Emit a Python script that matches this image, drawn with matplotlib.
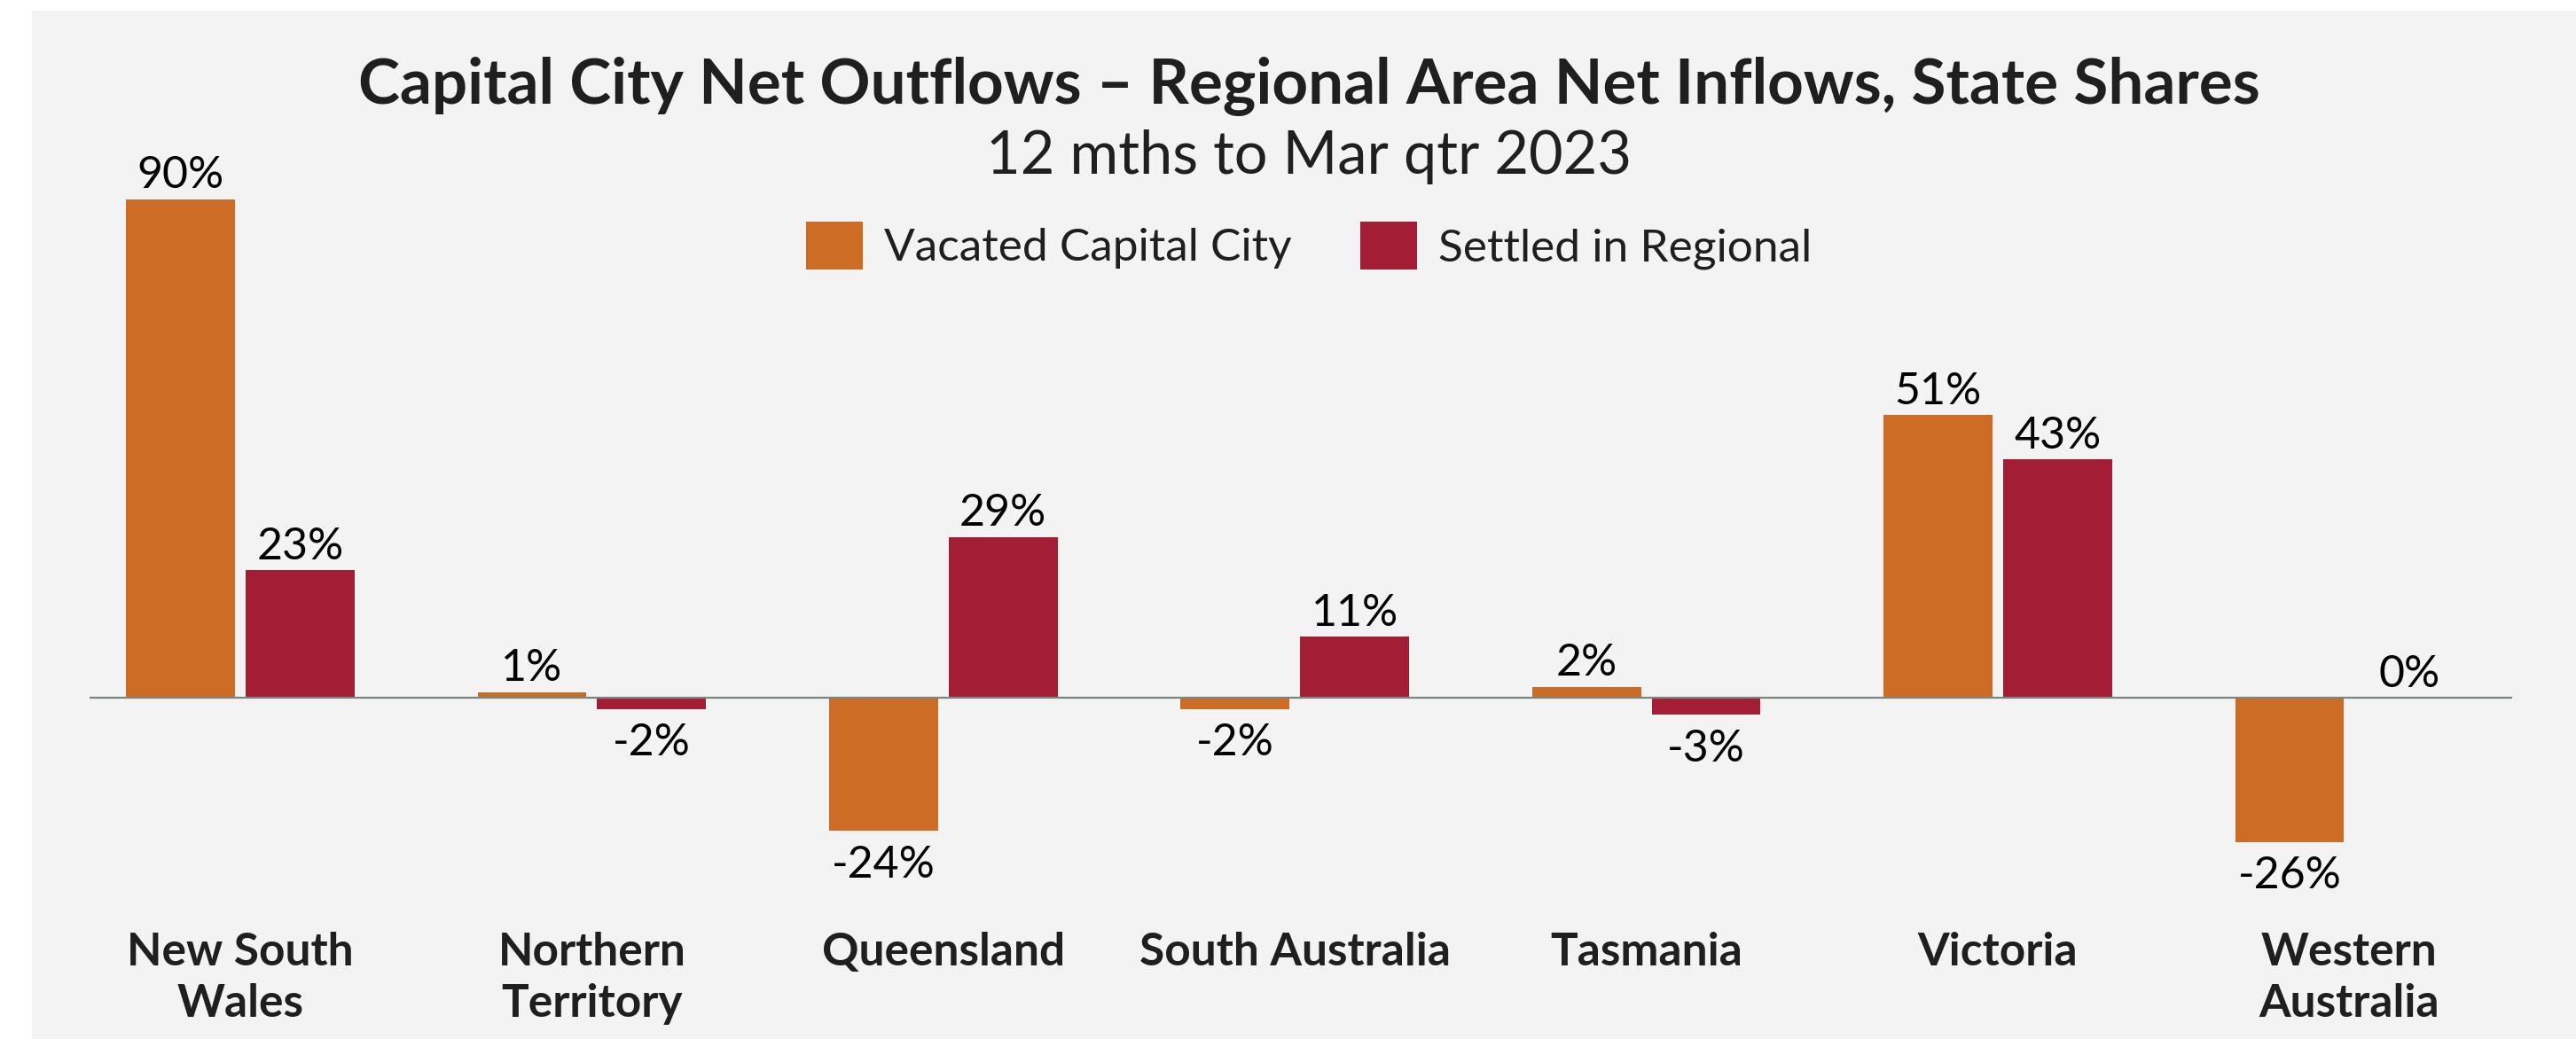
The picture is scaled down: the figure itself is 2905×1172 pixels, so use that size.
import matplotlib
matplotlib.use("Agg")
import matplotlib.pyplot as plt
from matplotlib.patches import Rectangle, Patch
import numpy as np

# ---- data ----
categories = ["New South\nWales", "Northern\nTerritory", "Queensland", "South Australia",
              "Tasmania", "Victoria", "Western\nAustralia"]
vacated_capital = [90, 1, -24, -2, 2, 51, -26]
settled_regional = [23, -2, 29, 11, -3, 43, 0]
series_names = ["Vacated Capital City", "Settled in Regional"]
title = "Capital City Net Outflows \u2013 Regional Area Net Inflows, State Shares"
subtitle = "12 mths to Mar qtr 2023"

# ---- style ----
FONT = "Lato"
ORANGE = "#CD6C25"
RED = "#A31E35"
BG = "#F3F3F3"
TXT = "#1F1F1F"
plt.rcParams["font.family"] = [FONT, "DejaVu Sans"]

W, H = 2905, 1172
fig = plt.figure(figsize=(W / 100, H / 100), dpi=100, facecolor="white")
fig.patches.append(Rectangle((36 / W, 0), 1 - 36 / W, 1 - 12 / H, transform=fig.transFigure,
                             facecolor=BG, edgecolor="none", zorder=-10))

top_px, bot_px = 150, 1000
ax = fig.add_axes([101 / W, 1 - bot_px / H, (2833 - 101) / W, (bot_px - top_px) / H])
ax.set_facecolor("none")

x = np.arange(len(categories))
bw = 0.31
off = 0.17
b1 = ax.bar(x - off, vacated_capital, bw, color=ORANGE, zorder=2)
b2 = ax.bar(x + off, settled_regional, bw, color=RED, zorder=2)

ax.set_xlim(-0.4289, 6.4632)
ppu = 6.25
ax.set_ylim(-(bot_px - 787) / ppu, (787 - top_px) / ppu)
ax.axhline(0, color="#7A8580", lw=1.6, zorder=3)

for s in ax.spines.values():
    s.set_visible(False)
ax.set_yticks([])
ax.set_xticks(x)
ax.set_xticklabels(categories, fontsize=37, fontweight="bold", color=TXT, linespacing=1.28)
ax.tick_params(axis="x", length=0, pad=37)

for bars, vals in ((b1, vacated_capital), (b2, settled_regional)):
    for rect, v in zip(bars, vals):
        cx = rect.get_x() + rect.get_width() / 2
        if v >= 0:
            ax.annotate(f"{v}%", (cx, v), xytext=(0, 9), textcoords="offset points",
                        ha="center", va="baseline", fontsize=36, color="black")
        else:
            ax.annotate(f"{v}%", (cx, v), xytext=(0, -38), textcoords="offset points",
                        ha="center", va="baseline", fontsize=36, color="black")

fig.text(1476 / W, 1 - 117 / H, title, ha="center", va="baseline", fontsize=51,
         fontweight="bold", color=TXT)
fig.text(1476 / W, 1 - 196 / H, subtitle, ha="center", va="baseline", fontsize=48,
         color=TXT)

handles = [Patch(facecolor=ORANGE), Patch(facecolor=RED)]
fig.legend(handles, series_names, loc="center", bbox_to_anchor=(1476 / W, 1 - 277 / H), ncol=2,
           frameon=False, prop={"family": FONT, "size": 37},
           handlelength=1.25, handleheight=1.25, handletextpad=0.47, columnspacing=1.5,
           labelcolor=TXT)

fig.savefig("out.png", dpi=100, facecolor="white")
